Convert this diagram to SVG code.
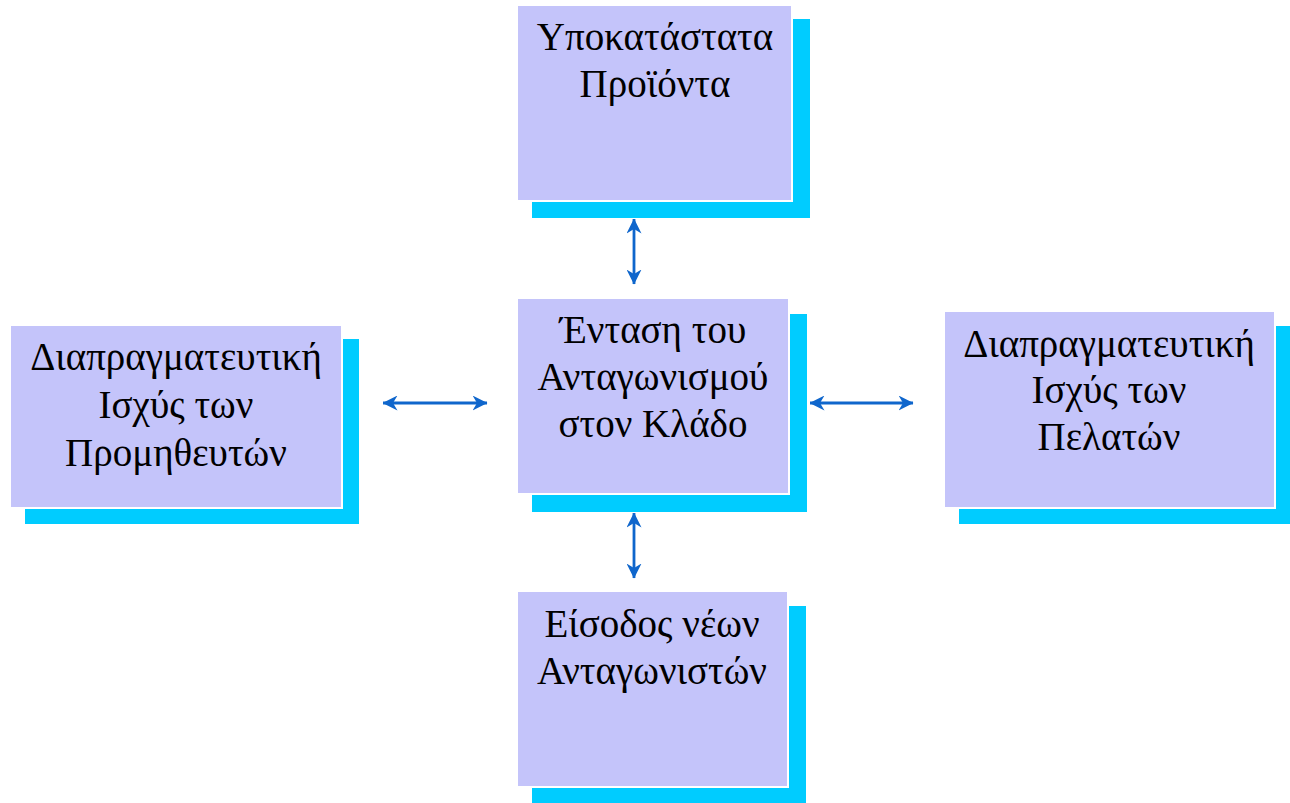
<svg xmlns="http://www.w3.org/2000/svg" width="1290" height="803" viewBox="0 0 1290 803">
<style>
.sh{fill:#00CCFF}
.face{fill:#C4C4FA;stroke:#FFFFFF;stroke-width:2}
.t{font-family:"Liberation Serif","Times New Roman",serif;font-size:39px;fill:#000;text-anchor:middle}
.c{stroke:#0F66CC;stroke-width:2.8;fill:none;marker-start:url(#ah);marker-end:url(#ah)}
</style>
<defs>
<marker id="ah" viewBox="0 0 15 15" refX="14.5" refY="7.5" markerWidth="15" markerHeight="15" markerUnits="userSpaceOnUse" orient="auto-start-reverse">
<path d="M0,0 L15,7.5 L0,15 L4.5,7.5 z" fill="#0F66CC"/>
</marker>
</defs>
<rect width="1290" height="803" fill="#FFFFFF"/>
<g id="connectors">
<line class="c" x1="634" y1="219" x2="634" y2="284"/>
<line class="c" x1="634" y1="513" x2="634" y2="578"/>
<line class="c" x1="383" y1="403" x2="487" y2="403"/>
<line class="c" x1="810" y1="403" x2="913" y2="403"/>
</g>
<g id="substitutes">
<rect class="sh" x="532" y="19" width="278" height="199"/>
<rect class="face" x="517" y="5" width="275" height="196"/>
<text class="t" x="655" y="50">Υποκατάστατα</text>
<text class="t" x="655" y="97">Προϊόντα</text>
</g>
<g id="suppliers">
<rect class="sh" x="25" y="339" width="334" height="185"/>
<rect class="face" x="10" y="325" width="332" height="183"/>
<text class="t" x="176" y="370">Διαπραγματευτική</text>
<text class="t" x="176" y="418">Ισχύς των</text>
<text class="t" x="176" y="466">Προμηθευτών</text>
</g>
<g id="rivalry">
<rect class="sh" x="532" y="314" width="275" height="198"/>
<rect class="face" x="517" y="298" width="272" height="196"/>
<text class="t" x="653" y="343">Ένταση του</text>
<text class="t" x="653" y="390">Ανταγωνισμού</text>
<text class="t" x="653" y="437">στον Κλάδο</text>
</g>
<g id="buyers">
<rect class="sh" x="959" y="326" width="331" height="198"/>
<rect class="face" x="944" y="311" width="331" height="197"/>
<text class="t" x="1109" y="357">Διαπραγματευτική</text>
<text class="t" x="1109" y="403">Ισχύς των</text>
<text class="t" x="1109" y="450">Πελατών</text>
</g>
<g id="entrants">
<rect class="sh" x="532" y="606" width="274" height="197"/>
<rect class="face" x="517" y="591" width="271" height="196"/>
<text class="t" x="652" y="637">Είσοδος νέων</text>
<text class="t" x="652" y="684">Ανταγωνιστών</text>
</g>
</svg>
